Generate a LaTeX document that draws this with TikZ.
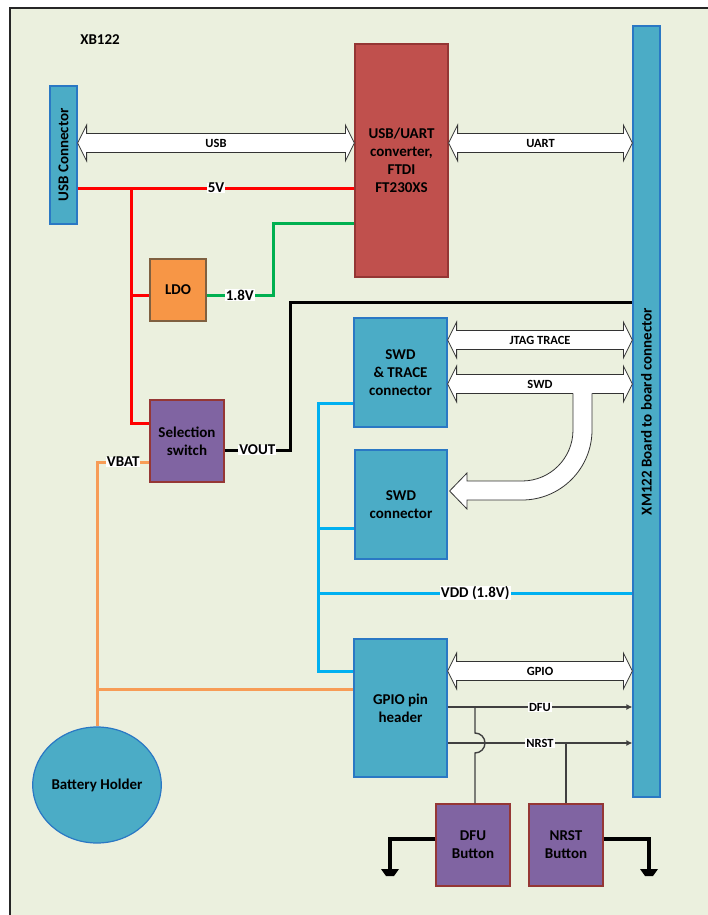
\documentclass[tikz,border=0pt]{standalone}
\usepackage{fontspec}
\setmainfont{Carlito}
\usetikzlibrary{shapes.geometric,arrows.meta,calc}
\definecolor{bg}{HTML}{EBF0DE}
\definecolor{cfill}{HTML}{4BACC6}
\definecolor{cdraw}{HTML}{2A78C4}
\definecolor{ffill}{HTML}{C0504D}
\definecolor{fdraw}{HTML}{943634}
\definecolor{lfill}{HTML}{F79646}
\definecolor{ldraw}{HTML}{7F6040}
\definecolor{pfill}{HTML}{8064A2}
\definecolor{pdraw}{HTML}{953735}
\definecolor{wred}{HTML}{FF0000}
\definecolor{wgreen}{HTML}{00B050}
\definecolor{wcyan}{HTML}{00B0F0}
\definecolor{worange}{HTML}{F79C56}
\definecolor{wgray}{HTML}{404040}
\newcommand{\dblarrow}[4]{%
  \draw[fatarrow] (#1) -- ($(#1)+(9,-18)$) -- ($(#1)+(9,-9.5)$) -- ($(#2)+(-9,-9.5)$) -- ($(#2)+(-9,-18)$) -- (#2) -- ($(#2)+(-9,18)$) -- ($(#2)+(-9,9.5)$) -- ($(#1)+(9,9.5)$) -- ($(#1)+(9,18)$) -- cycle;
  \node[slbl] (#4) at ($(#1)!0.5!(#2)$) {#3};}
\newcommand{\gndsym}[1]{%
  \fill[black] ($(#1)+(-9,0)$) -- ($(#1)+(9,0)$) -- ($(#1)+(4,7)$) -- ($(#1)+(-4,7)$) -- cycle;}
\begin{document}
\begin{tikzpicture}[x=1pt,y=-1pt,
  font=\bfseries\fontsize{15}{18}\selectfont,
  box/.style={line width=1.2pt, inner sep=0pt, align=center, text=black},
  bluebox/.style={box, draw=cdraw, fill=cfill},
  redbox/.style={box, draw=fdraw, fill=ffill},
  ldobox/.style={box, draw=ldraw, fill=lfill},
  purbox/.style={box, draw=pdraw, fill=pfill},
  wire/.style={line width=3pt},
  thin wire/.style={line width=1.4pt, draw=wgray},
  lbl/.style={fill=white, text=black, inner xsep=1pt, inner ysep=0.5pt, font=\bfseries\fontsize{15}{15}\selectfont},
  slbl/.style={inner sep=0pt, text=black, font=\bfseries\fontsize{12.5}{12.5}\selectfont},
  slblw/.style={fill=white, text=black, inner xsep=1pt, inner ysep=0.5pt, font=\bfseries\fontsize{12.5}{12.5}\selectfont},
  fatarrow/.style={draw=black!80, fill=white, line width=0.8pt, line join=miter},
]
\useasboundingbox (0,0) rectangle (707,915);
\fill[white] (0,0) rectangle (707,915);
\draw[fill=bg, draw=black!85, line width=1.2pt] (10,8) rectangle (730,940);

% nodes
\node (title) at (100,40) {XB122};
\node[bluebox, minimum width=27, minimum height=138] (usbc) at (63.5,155) {\rotatebox{90}{USB Connector}};
\node[redbox, minimum width=93, minimum height=233] (ftdi) at (401.5,160.5) {USB/UART\\converter,\\FTDI\\FT230XS};
\node[bluebox, minimum width=27, minimum height=771] (xm) at (646.5,411.5) {\rotatebox{90}{XM122 Board to board connector}};
\node[ldobox, minimum width=56, minimum height=62] (ldo) at (178,290) {LDO};
\node[purbox, minimum width=74, minimum height=82] (sw) at (187,441) {Selection\\switch};
\node[bluebox, minimum width=93, minimum height=109] (swdt) at (400.5,372.5) {SWD\\\& TRACE\\connector};
\node[bluebox, minimum width=92, minimum height=109] (swd) at (401,504.5) {SWD\\connector};
\node[bluebox, minimum width=93, minimum height=138] (gpio) at (400.5,708) {GPIO pin\\header};
\node[bluebox, ellipse, minimum width=122, minimum height=116] (bat) at (97,785) {Battery Holder};
\node[purbox, minimum width=74, minimum height=82] (dfu) at (473,845) {DFU\\Button};
\node[purbox, minimum width=74, minimum height=82] (nrst) at (566,845) {NRST\\Button};

% junction coordinates
\coordinate (j5v) at (131,188);
\coordinate (jsw) at (131,423);
\coordinate (jldo) at (131,295);
\coordinate (g1) at (273,295);
\coordinate (g2) at (273,223);
\coordinate (b1) at (290,450);
\coordinate (b2) at (290,302);
\coordinate (o1) at (97,462);
\coordinate (o2) at (97,689);
\coordinate (c1) at (318,403);
\coordinate (c2) at (318,671);
\coordinate (c3) at (318,528);
\coordinate (c4) at (318,593);

% red 5V
\draw[wire, wred] (usbc.east|-j5v) -- node[lbl] {5V} (ftdi.west|-j5v);
\draw[wire, wred] (j5v) -- (jsw) -- (sw.west|-jsw);
\draw[wire, wred] (jldo) -- (ldo.west|-jldo);
% green 1.8V
\draw[wire, wgreen] (ldo.east|-g1) -- node[lbl] {1.8V} (g1) -- (g2) -- (ftdi.west|-g2);
% black VOUT
\draw[wire, black, line join=miter] (sw.east|-b1) -- node[lbl] {VOUT} (b1) -- (b2) -- (xm.west|-b2);
% orange VBAT
\draw[wire, worange] (sw.west|-o1) -- node[lbl] {VBAT} (o1) -- (bat.north);
\draw[wire, worange] (o2) -- (gpio.west|-o2);
% cyan VDD
\draw[wire, wcyan] (swdt.west|-c1) -- (c1) -- (c2) -- (gpio.west|-c2);
\draw[wire, wcyan] (c3) -- (swd.west|-c3);
\draw[wire, wcyan] (c4) -- node[lbl] {VDD (1.8V)} (xm.west|-c4);

% fat double arrows
\coordinate (uL) at (usbc.east|-0,143);  \coordinate (uR) at (ftdi.west|-0,143);
\coordinate (aL) at (ftdi.east|-0,143);  \coordinate (aR) at (xm.west|-0,143);
\coordinate (jL) at (swdt.east|-0,340);  \coordinate (jR) at (xm.west|-0,340);
\coordinate (sL) at (swdt.east|-0,384);  \coordinate (sR) at (xm.west|-0,384);
\coordinate (pL) at (gpio.east|-0,671);  \coordinate (pR) at (xm.west|-0,671);
\dblarrow{uL}{uR}{USB}{usblbl}
\dblarrow{aL}{aR}{UART}{uartlbl}
\dblarrow{jL}{jR}{JTAG TRACE}{jtaglbl}
\dblarrow{sL}{sR}{SWD}{swdlbl}
\dblarrow{pL}{pR}{GPIO}{gpiolbl}

% curved SWD arrow
\coordinate (tip) at ($(swd.east|-0,491)+(2,0)$);
\fill[white] (573,392.6) -- (573,430) arc[start angle=0,end angle=90,radius=51] -- (467,481) -- (467,473) -- (tip) -- (467,509) -- (467,500) -- (522,500) arc[start angle=90,end angle=0,radius=70] -- (592,392.6) -- cycle;
\draw[draw=black!80, line width=0.8pt, line join=miter] (573,393.3) -- (573,430) arc[start angle=0,end angle=90,radius=51] -- (467,481) -- (467,473) -- (tip) -- (467,509) -- (467,500) -- (522,500) arc[start angle=90,end angle=0,radius=70] -- (592,393.3);

% DFU / NRST signal lines
\coordinate (dfuL) at (gpio.east|-0,707);
\coordinate (nrsL) at (gpio.east|-0,743);
\draw[thin wire, -{Latex[length=6pt,width=6pt]}] (dfuL) -- node[slblw] {DFU} (xm.west|-dfuL);
\draw[thin wire, -{Latex[length=6pt,width=6pt]}] (nrsL) -- node[slblw] {NRST} (xm.west|-nrsL);
\coordinate (dj) at (475,707);
\draw[thin wire] (dj) -- (475,733) arc[start angle=-90,end angle=90,radius=10] -- (dfu.north-|dj);
\draw[thin wire] (nrst.north|-nrsL) -- (nrst.north);

% grounds
\coordinate (gd) at (390,869);
\coordinate (gn) at (649,869);
\draw[line width=3.5pt, line join=miter] (dfu.west|-0,839) -- (gd|-0,839) -- (gd);
\draw[line width=3.5pt, line join=miter] (nrst.east|-0,839) -- (gn|-0,839) -- (gn);
\gndsym{gd}
\gndsym{gn}
\end{tikzpicture}
\end{document}
